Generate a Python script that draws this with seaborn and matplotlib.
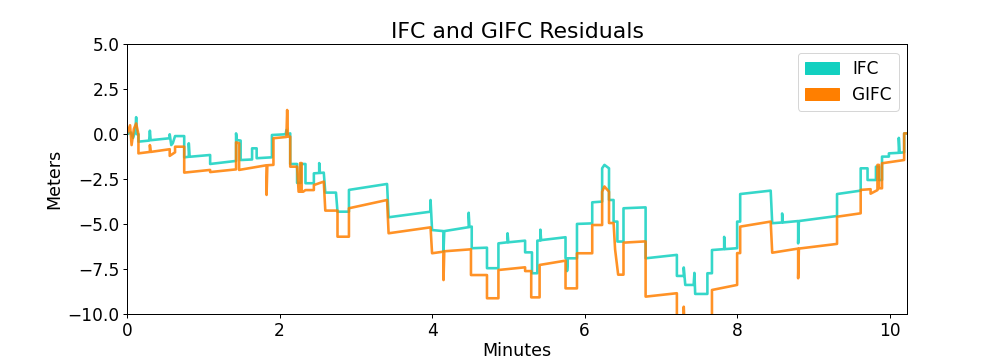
import numpy as np
import pandas as pd
import seaborn as sns
import matplotlib
matplotlib.use("Agg")
import matplotlib.pyplot as plt
from matplotlib.patches import Patch

# vertices of the residual traces (minutes, meters)
ifc_t = [0.00, 0.05, 0.08, 0.11, 0.12, 0.13, 0.15,
         0.15, 0.29, 0.30, 0.31, 0.56, 0.56, 0.58, 0.60, 0.63, 0.75,
         0.75, 0.81, 0.81, 0.82, 1.09, 1.09, 1.43, 1.43, 1.44, 1.49, 1.49,
         1.64, 1.64, 1.70, 1.70, 1.90, 1.90, 2.08, 2.09, 2.10, 2.14,
         2.14, 2.23, 2.23, 2.28, 2.28, 2.34, 2.34, 2.45, 2.45, 2.52, 2.52, 2.53, 2.58,
         2.60, 2.74, 2.76, 2.91, 2.91, 3.41, 3.43, 3.98, 3.98, 4.00,
         4.15, 4.15, 4.16, 4.48, 4.48, 4.49, 4.52, 4.52, 4.72, 4.72, 4.87,
         4.87, 4.99, 4.99, 5.00, 5.22, 5.22, 5.31, 5.31, 5.38, 5.38, 5.42, 5.42, 5.43,
         5.75, 5.75, 5.77, 5.77, 5.78, 5.90, 5.90, 6.10, 6.10, 6.23, 6.23, 6.26, 6.32,
         6.32, 6.38, 6.38, 6.43, 6.43, 6.51, 6.51, 6.80, 6.80, 7.21, 7.21, 7.30,
         7.30, 7.32, 7.43, 7.44, 7.45, 7.61, 7.61, 7.67, 7.67, 7.83, 7.83, 7.84,
         8.00, 8.00, 8.04, 8.04, 8.44, 8.46, 8.59, 8.59, 8.60, 8.80, 8.80, 8.81,
         9.31, 9.31, 9.62, 9.62, 9.71, 9.71, 9.82, 9.82, 9.86, 9.86, 9.90, 9.90,
         9.99, 9.99, 10.12, 10.12, 10.13, 10.19, 10.19, 10.23]
ifc_v = [0.00, 0.10, -0.20, 0.20, 0.95, 0.00, 0.00,
         -0.41, -0.35, 0.20, -0.33, -0.22, 0.00, -0.60, -0.50, -0.10, -0.10,
         -1.28, -1.25, -0.50, -1.25, -1.15, -1.65, -1.48, 0.05, -0.32, -0.35, -1.43,
         -1.40, -0.78, -0.78, -1.33, -1.28, -0.04, 0.00, 0.24, 0.00, 0.05,
         -1.65, -1.65, -2.70, -2.70, -1.65, -1.65, -2.72, -2.72, -2.17, -2.15, -1.60, -2.15, -2.13,
         -3.24, -3.24, -4.30, -4.30, -3.09, -2.76, -4.61, -4.30, -3.65, -5.32,
         -5.38, -6.52, -5.38, -5.16, -4.36, -5.15, -5.13, -6.33, -6.30, -7.44, -7.44,
         -6.06, -6.00, -5.50, -6.00, -5.91, -6.56, -6.56, -7.72, -7.72, -5.91, -5.90, -5.30, -5.88,
         -5.72, -6.89, -6.89, -7.60, -6.89, -6.89, -4.98, -4.95, -3.78, -3.74, -1.89, -1.70, -1.89,
         -3.65, -3.65, -4.85, -4.85, -5.96, -5.96, -4.11, -4.06, -6.89, -6.70, -7.87, -7.87,
         -7.40, -8.37, -8.37, -7.70, -8.87, -8.87, -7.72, -7.72, -6.43, -6.38, -5.70, -6.38,
         -6.33, -4.85, -4.85, -3.32, -3.13, -4.94, -4.90, -4.40, -4.90, -4.82, -6.06, -4.82,
         -4.54, -3.32, -3.13, -1.89, -1.89, -2.54, -2.54, -1.80, -1.80, -2.54, -2.54, -1.24,
         -1.24, -1.06, -1.03, -0.20, -1.03, -1.00, 0.05, 0.05]

gifc_t = [0.00, 0.04, 0.06, 0.09, 0.12, 0.15,
          0.15, 0.30, 0.30, 0.31, 0.56, 0.56, 0.63, 0.63, 0.75,
          0.75, 1.09, 1.09, 1.43, 1.43, 1.47, 1.47, 1.83, 1.83, 1.84,
          1.92, 1.92, 2.09, 2.10, 2.11, 2.14,
          2.14, 2.23, 2.25, 2.27, 2.27, 2.29, 2.29, 2.31, 2.34, 2.45, 2.45, 2.58,
          2.60, 2.76, 2.76, 2.91, 2.91, 3.41, 3.43, 3.98, 4.00,
          4.15, 4.15, 4.16, 4.51, 4.51, 4.72, 4.72, 4.87, 4.87, 5.22, 5.22, 5.30,
          5.30, 5.41, 5.41, 5.75, 5.75, 5.90, 5.90, 6.10, 6.10, 6.23, 6.23, 6.26, 6.32,
          6.32, 6.38, 6.40, 6.44, 6.51, 6.51, 6.80, 6.80, 7.21, 7.21, 7.30, 7.30, 7.31,
          7.67, 7.67, 8.00, 8.00, 8.04, 8.04, 8.44, 8.46, 8.80, 8.80, 8.81,
          9.31, 9.31, 9.62, 9.62, 9.75, 9.75, 9.84, 9.84, 9.86, 9.86, 9.90, 9.90,
          10.19, 10.19, 10.23]
gifc_v = [0.05, 0.50, -0.60, 0.30, 0.60, 0.00,
          -1.06, -0.98, -0.60, -0.98, -0.83, -1.20, -1.00, -0.69, -0.69,
          -2.13, -1.98, -2.10, -1.95, -0.45, -0.50, -1.98, -1.72, -3.37, -1.72,
          -1.70, -0.22, -0.15, 1.35, -0.13, -0.13,
          -1.80, -1.80, -3.19, -3.19, -1.60, -1.60, -3.19, -3.19, -3.10, -3.10, -2.82, -2.63,
          -4.24, -4.24, -5.69, -5.69, -4.11, -3.65, -5.50, -5.17, -6.61,
          -6.52, -8.10, -6.50, -6.39, -7.82, -7.82, -9.11, -9.11, -7.54, -7.39, -7.60, -7.60,
          -9.06, -9.06, -7.26, -7.02, -8.56, -8.56, -6.61, -6.61, -5.04, -5.04, -3.19, -2.90, -3.19,
          -4.93, -4.93, -6.40, -7.80, -7.80, -6.02, -5.95, -9.02, -8.83, -10.80, -10.80, -9.58, -10.80,
          -11.00, -8.65, -8.37, -6.60, -6.60, -5.13, -4.85, -6.58, -6.35, -8.00, -6.35,
          -6.09, -4.58, -4.39, -3.09, -3.05, -3.30, -3.10, -1.70, -1.70, -3.00, -3.00, -1.61,
          -1.43, 0.05, 0.05]

series_names = ["IFC", "GIFC"]
colors = ["#12d0c0", "#ff7f00"]

df = pd.concat([
    pd.DataFrame({"Minutes": ifc_t, "Meters": ifc_v, "series": "IFC"}),
    pd.DataFrame({"Minutes": gifc_t, "Meters": gifc_v, "series": "GIFC"}),
])

sns.set_style("ticks")
plt.rcParams["font.family"] = ["DejaVu Sans"]
plt.rcParams["axes.edgecolor"] = "black"
plt.rcParams["axes.labelcolor"] = "black"
plt.rcParams["text.color"] = "black"
plt.rcParams["xtick.color"] = "black"
plt.rcParams["ytick.color"] = "black"

fig = plt.figure(figsize=(14, 5), dpi=72)
ax = fig.add_axes([0.126, 0.127, 0.774, 0.75])

sns.lineplot(data=df, x="Minutes", y="Meters", hue="series", palette=dict(zip(series_names, colors)),
             units="series", estimator=None, sort=False, linewidth=2.6, alpha=0.85, ax=ax, legend=False)

ax.set_xlim(0, 10.23)
ax.set_ylim(-10, 5)
ax.set_xticks([0, 2, 4, 6, 8, 10])
ax.set_yticks([-10, -7.5, -5, -2.5, 0, 2.5, 5])
ax.set_yticklabels(["\u221210.0", "\u22127.5", "\u22125.0", "\u22122.5", "0.0", "2.5", "5.0"])
ax.tick_params(labelsize=17, length=4, width=1)
for s in ax.spines.values():
    s.set_visible(True)
    s.set_linewidth(1)

ax.set_title("IFC and GIFC Residuals", fontsize=22, pad=6, color="black")
ax.set_xlabel("Minutes", fontsize=17.5, labelpad=2)
ax.set_ylabel("Meters", fontsize=17.5)

handles = [Patch(color=c, label=n) for n, c in zip(series_names, colors)]
ax.legend(handles=handles, loc="upper right", fontsize=17, frameon=True, fancybox=True,
          edgecolor="#cccccc", handlelength=2.0)

fig.savefig("out.png", dpi=72)
